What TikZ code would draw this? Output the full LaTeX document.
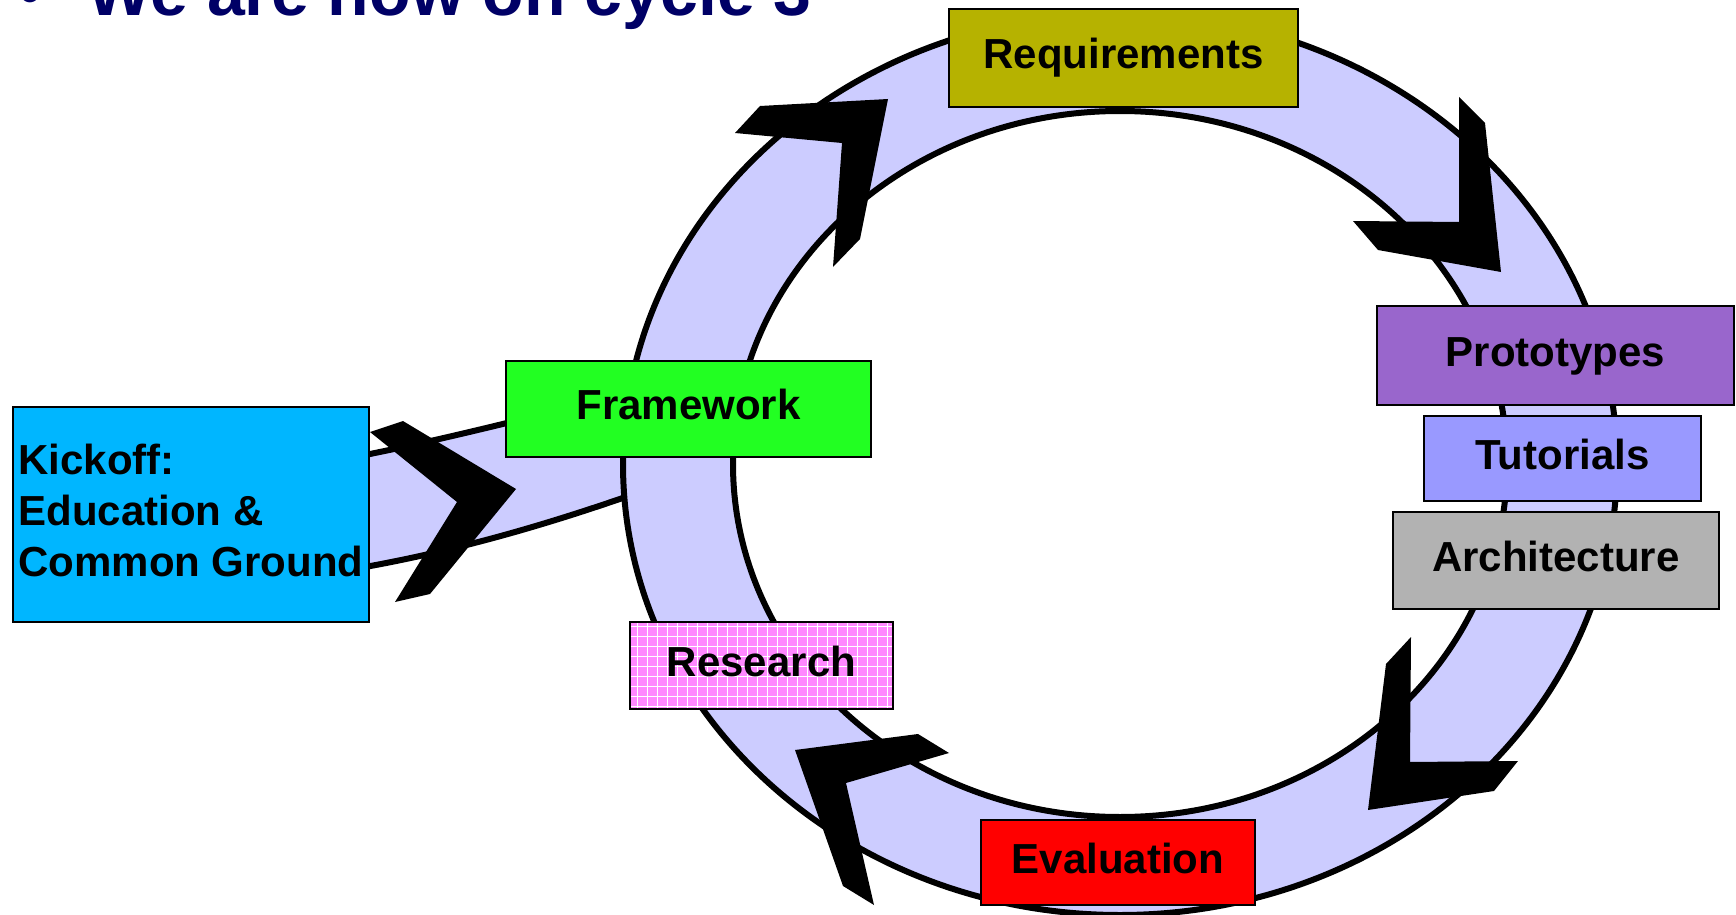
\documentclass[tikz,border=0pt]{standalone}
\usepackage{fontspec}
\setmainfont{Liberation Sans}
\definecolor{ringfill}{RGB}{204,204,255}
\definecolor{reqcol}{RGB}{182,178,0}
\definecolor{protocol}{RGB}{153,102,204}
\definecolor{tutcol}{RGB}{153,153,255}
\definecolor{archcol}{RGB}{178,178,178}
\definecolor{framecol}{RGB}{34,255,34}
\definecolor{kickcol}{RGB}{0,182,255}
\definecolor{rescol}{RGB}{255,136,255}
\definecolor{evalcol}{RGB}{255,0,0}
\definecolor{titlecol}{RGB}{0,0,102}
\begin{document}
\begin{tikzpicture}[x=0.5pt,y=-0.5pt,
  box/.style={draw=black, line width=0.8pt, inner sep=0pt,
    font=\fontsize{21}{25.5}\selectfont\bfseries, text=black},
  onebox/.style={box, text height=15.3pt, text depth=4.4pt},
  edgeline/.style={line width=3pt},
  chevron/.style={fill=black},
  gridfill/.style={path picture={
    \draw[white, line width=0.4pt, step=5pt]
      (path picture bounding box.south west) grid (path picture bounding box.north east);}}
]
\useasboundingbox (0,0) rectangle (1736,915);

% title
\node[anchor=base west, inner sep=0pt, text=titlecol,
  font=\fontsize{34}{40}\selectfont\bfseries] (bullet) at (18,16) {•};
\node[anchor=base west, inner sep=0pt, text=titlecol,
  font=\fontsize{34}{40}\selectfont\bfseries] (title) at (87,16) {We are now on cycle 3};

% band from kickoff to ring
\fill[ringfill] (365,455) .. controls (440,440) and (520,420) .. (640,390)
  -- (640,492) .. controls (560,520) and (470,548) .. (365,567) -- cycle;
\draw[edgeline] (365,455) .. controls (440,440) and (520,420) .. (640,390);
\draw[edgeline] (365,567) .. controls (470,548) and (560,520) .. (640,492);

% ring
\fill[ringfill, even odd rule] (1120,464) ellipse [x radius=497, y radius=451]
  (1120,464) ellipse [x radius=387, y radius=353];
\draw[edgeline] (1120,464) ellipse [x radius=497, y radius=451];
\draw[edgeline] (1120,464) ellipse [x radius=387, y radius=353];

% chevron arrows
\fill[chevron] (760,106) -- (888,99) -- (860,239) -- (833,267) -- (842,143) -- (735,133) -- cycle;
\fill[chevron] (1459,97) -- (1485,123) -- (1501,272) -- (1378,250) -- (1353,221) -- (1459,222) -- cycle;
\fill[chevron] (1411,637) -- (1386,664) -- (1368,810) -- (1494,791) -- (1518,761) -- (1410,762) -- cycle;
\fill[chevron] (918,734) -- (949,753) -- (846,783) -- (874,905) -- (843,886) -- (795,750) -- cycle;
\fill[chevron] (370,432) -- (403,421) -- (516,489) -- (430,594) -- (395,602) -- (457,502) -- cycle;

% boxes
\node[box, fill=kickcol, minimum width=178pt, minimum height=107.5pt, align=left, text depth=4.4pt]
  (kick) at (191,514.5) {Kickoff:\\Education \&\\Common Ground};
\node[onebox, fill=reqcol, minimum width=174.5pt, minimum height=49pt] (req) at (1123.5,58) {Requirements};
\node[onebox, fill=protocol, minimum width=178.5pt, minimum height=49.5pt] (proto) at (1555.5,355.5) {Prototypes};
\node[onebox, fill=tutcol, minimum width=138.5pt, minimum height=42.5pt] (tut) at (1562.5,458.5) {Tutorials};
\node[onebox, fill=archcol, minimum width=163pt, minimum height=48.5pt] (arch) at (1556,560.5) {Architecture};
\node[onebox, fill=framecol, minimum width=182.5pt, minimum height=48pt] (frame) at (688.5,409) {Framework};
\node[onebox, fill=rescol, gridfill, minimum width=131.5pt, minimum height=43.5pt] (res) at (761.5,665.5) {Research};
\node[onebox, fill=evalcol, minimum width=137pt, minimum height=42.5pt] (eval) at (1118,862.5) {Evaluation};
\end{tikzpicture}
\end{document}
